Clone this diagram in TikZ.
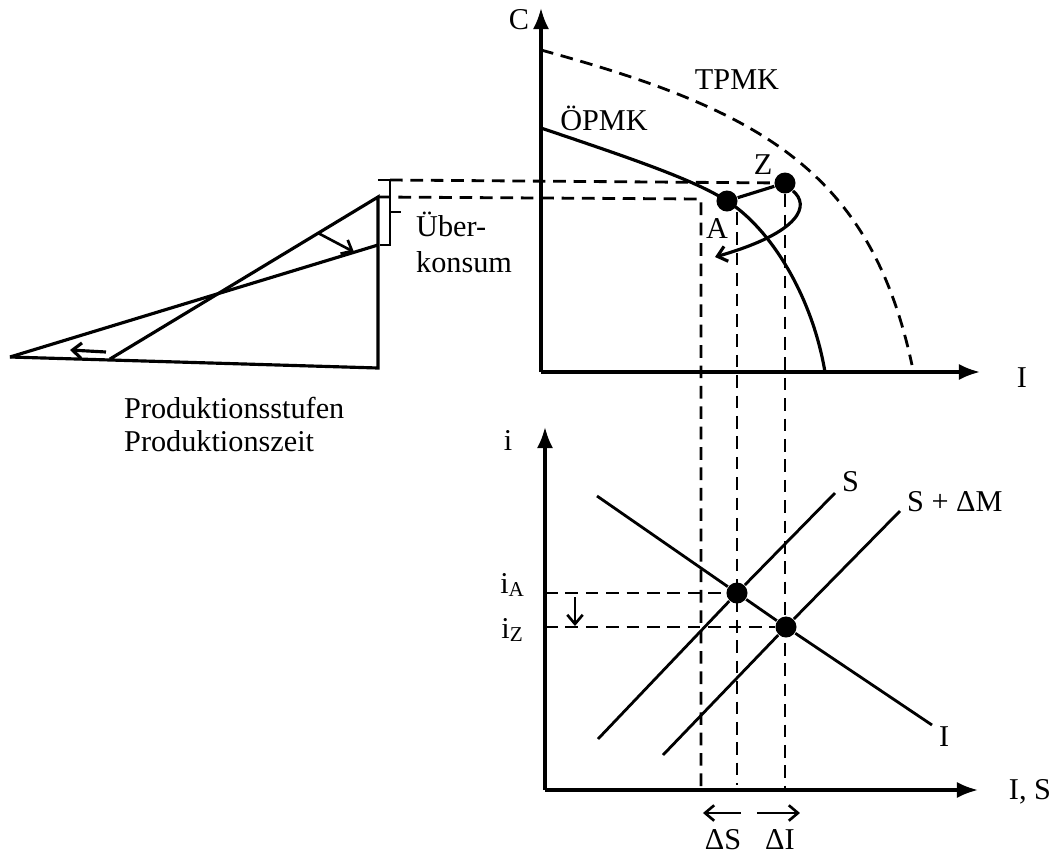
\documentclass[tikz,border=0pt]{standalone}
\usepackage{fontspec}
\setmainfont{Liberation Serif}
\usetikzlibrary{positioning,arrows.meta}

\begin{document}
\begin{tikzpicture}[
  x=0.01cm, y=-0.01cm,
  font=\fontsize{8.6}{10}\selectfont,
  axisline/.style = {line width=0.9pt, -{Latex[length=6pt,width=4.6pt]}},
  curveline/.style = {line width=0.9pt},
  guide/.style = {line width=0.8pt, dash pattern=on 3.6pt off 2.2pt},
  shiftarrow/.style = {line width=0.75pt, -{Straight Barb[length=2.6pt,width=4.4pt]}},
  dot/.style = {circle, fill, inner sep=0pt, minimum size=0.21cm},
  lbl/.style = {inner sep=1pt},
]
  \useasboundingbox (0,0) rectangle (1059,857);

  % upper panel: C over I
  \coordinate (O1) at (541,372);
  \coordinate (Ctip) at (541,8);
  \coordinate (Itip) at (980,372);
  \draw[axisline] (O1) -- (Ctip);
  \draw[axisline] (O1) -- (Itip);
  \node[lbl] (lC) at (519,20) {C};
  \node[lbl] (lI) at (1022,378) {I};

  \node[dot] (A) at (727,201) {};
  \node[dot] (Z) at (785,183) {};
  \draw[curveline] (541,128) .. controls (630,158) and (695,180) .. (A.center)
    .. controls (770,228) and (812,295) .. (825,372);
  \draw[curveline, guide] (541,50) .. controls (760,110) and (870,170) .. (912,365);
  \node[lbl] (lT) at (737,80) {TPMK};
  \node[lbl] (lO) at (604,118) {ÖPMK};

  \node[lbl] (lA) at (717,229) {A};
  \node[lbl] (lZ) at (763,165) {Z};
  \draw[curveline] (A) -- (Z);
  \coordinate (back) at (715,257);
  \draw[shiftarrow, line width=0.9pt] (Z.south east) .. controls (810,205) and (802,232) .. (back);

  % triangle: Produktionsstufen
  \coordinate (t1) at (10,357);
  \coordinate (t2) at (110,359);
  \coordinate (t3) at (378,368);
  \coordinate (t4) at (378,197);
  \coordinate (t5) at (378,245);
  \draw[curveline] (t1) -- (t3) -- (t4) -- (t2);
  \draw[curveline] (t1) -- (t5);
  \coordinate (r1) at (318,233);
  \coordinate (r2) at (354,252);
  \draw[shiftarrow] (r1) -- (r2);
  \coordinate (p1) at (106,352);
  \coordinate (p2) at (70,350);
  \draw[shiftarrow, line width=0.9pt] (p1) -- (p2);
  \node[lbl, anchor=north west, align=left, font=\fontsize{8.6}{9.4}\selectfont] (lP) at (120,393)
    {Produktionsstufen\\Produktionszeit};

  \coordinate (b1) at (378,180);
  \coordinate (b2) at (390,180);
  \coordinate (b3) at (390,245);
  \coordinate (b4) at (380,245);
  \draw[line width=0.8pt] (b1) -- (b2) -- (b3) -- (b4);
  \draw[line width=0.8pt] (390,212) -- (401,212);
  \node[lbl, anchor=north west, align=left, font=\fontsize{8.6}{10.2}\selectfont] (lU) at (412,208)
    {Über-\\konsum};

  % guide lines to the lower panel
  \coordinate (O2) at (545,790);
  \coordinate (g1) at (701,199);
  \coordinate (g2) at (737,212);
  \draw[guide] (b2) -- (Z);
  \draw[guide] (t4) -- (g1) -- (g1 |- O2);
  \draw[guide] (g2) -- (737,785);
  \draw[guide] (Z) -- (Z |- O2);

  % lower panel: i over I, S
  \coordinate (itip) at (545,427);
  \coordinate (IStip) at (978,790);
  \draw[axisline] (O2) -- (itip);
  \draw[axisline] (O2) -- (IStip);
  \node[lbl] (li) at (508,440) {i};
  \node[lbl] (lIS) at (1030,792) {I, S};

  \node[dot] (E1) at (737,593) {};
  \node[dot] (E2) at (786,627) {};
  \coordinate (I0) at (597,496);
  \coordinate (I1) at (932,725);
  \coordinate (S0) at (598,739);
  \coordinate (S1) at (835,493);
  \coordinate (M0) at (663,755);
  \coordinate (M1) at (900,511);
  \draw[curveline, line width=0.8pt] (I0) -- (E1) -- (E2) -- (I1);
  \draw[curveline, line width=0.8pt] (S0) -- (E1) -- (S1);
  \draw[curveline, line width=0.8pt] (M0) -- (E2) -- (M1);
  \node[lbl, anchor=south west] (lS) at (838,496) {S};
  \node[lbl, anchor=south west] (lM) at (903,516) {S + ΔM};
  \node[lbl, anchor=north west] (lInv) at (935,722) {I};

  \draw[guide] (O2 |- E1) -- (E1);
  \draw[guide] (O2 |- E2) -- (E2);
  \node[lbl] (liA) at (513,585) {i\textsubscript{A}};
  \node[lbl] (liZ) at (513,630) {i\textsubscript{Z}};
  \coordinate (d1) at (575,597);
  \coordinate (d2) at (575,626);
  \draw[shiftarrow] (d1) -- (d2);

  \coordinate (s1) at (741,813);
  \coordinate (s2) at (703,813);
  \coordinate (v1) at (757,813);
  \coordinate (v2) at (800,813);
  \draw[shiftarrow] (s1) -- (s2);
  \draw[shiftarrow] (v1) -- (v2);
  \node[lbl] (lDS) at (723,840) {ΔS};
  \node[lbl] (lDI) at (780,840) {ΔI};
\end{tikzpicture}
\end{document}
